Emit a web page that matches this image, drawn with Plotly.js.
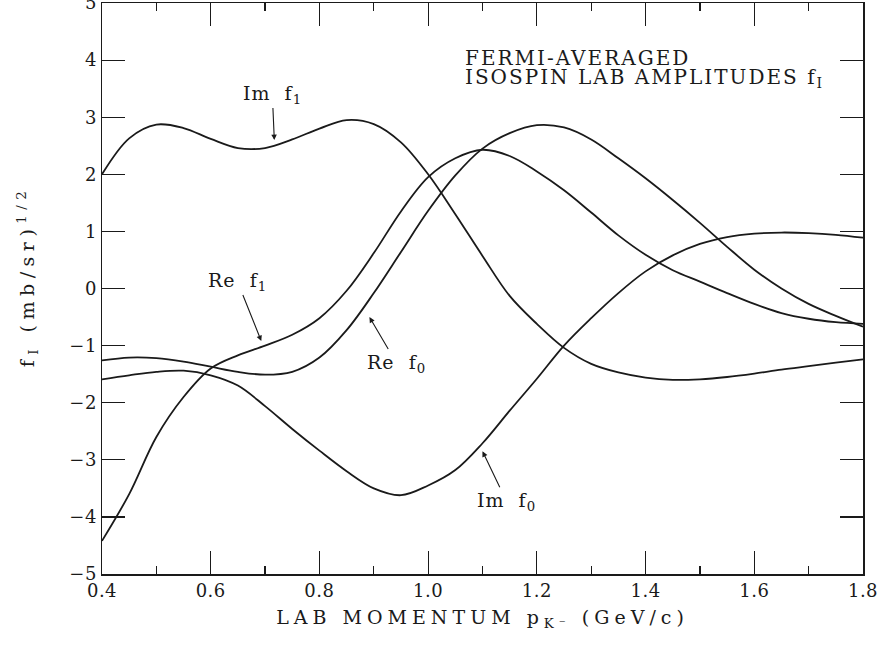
<!DOCTYPE html>
<html>
<head>
<meta charset="utf-8">
<script src="https://cdn.plot.ly/plotly-3.0.1.min.js"></script>
<style>
html,body{margin:0;padding:0;background:#fff;}
#chart{width:883px;height:651px;}
</style>
</head>
<body>
<div id="chart"></div>
<script>
// Lab momentum p_K- (GeV/c)
const momentum = [0.40,0.45,0.50,0.55,0.60,0.65,0.70,0.75,0.80,0.85,0.90,0.95,1.00,1.05,1.10,1.15,1.20,1.25,1.30,1.35,1.40,1.45,1.50,1.55,1.60,1.65,1.70,1.75,1.80];

// Fermi-averaged isospin lab amplitudes (mb/sr)^1/2
const imF1 = [2.00,2.63,2.87,2.81,2.62,2.46,2.46,2.61,2.80,2.95,2.88,2.56,2.00,1.30,0.57,-0.13,-0.62,-1.04,-1.32,-1.47,-1.56,-1.60,-1.59,-1.55,-1.49,-1.42,-1.36,-1.30,-1.24];
const reF1 = [-4.42,-3.60,-2.60,-1.90,-1.40,-1.17,-1.00,-0.81,-0.52,-0.04,0.62,1.35,1.95,2.28,2.43,2.32,2.05,1.72,1.33,0.93,0.59,0.32,0.12,-0.08,-0.27,-0.43,-0.53,-0.59,-0.62];
const reF0 = [-1.26,-1.21,-1.22,-1.28,-1.37,-1.46,-1.51,-1.46,-1.21,-0.73,-0.08,0.64,1.36,1.98,2.45,2.72,2.86,2.82,2.61,2.28,1.93,1.55,1.15,0.73,0.33,0.00,-0.27,-0.48,-0.67];
const imF0 = [-1.59,-1.52,-1.46,-1.44,-1.52,-1.70,-2.06,-2.46,-2.84,-3.20,-3.50,-3.62,-3.45,-3.18,-2.71,-2.14,-1.58,-1.00,-0.52,-0.08,0.30,0.58,0.78,0.90,0.96,0.98,0.97,0.94,0.89];

const seriesNames = ['Im f1','Re f1','Re f0','Im f0'];
const seriesValues = [imF1, reF1, reF0, imF0];

const xTickVals = [0.4,0.6,0.8,1.0,1.2,1.4,1.6,1.8];
const xTickText = ['0.4','0.6','0.8','1.0','1.2','1.4','1.6','1.8'];
const yTickVals = [-5,-4,-3,-2,-1,0,1,2,3,4,5];

// curve labels: text, arrow tip (x, y), text offset in px (ax, ay)
const labelTexts = ['Im  f<sub>1</sub>','Re  f<sub>1</sub>','Re  f<sub>0</sub>','Im  f<sub>0</sub>'];
const labelTipX = [0.717, 0.693, 0.892, 1.100];
const labelTipY = [2.60, -0.92, -0.50, -2.85];
const labelAx = [-2, -24, 27, 24];
const labelAy = [-46, -60, 46, 50];

const noteLines = ['FERMI-AVERAGED', 'ISOSPIN LAB AMPLITUDES f<sub>I</sub>'];
const noteY = [4.03, 3.68];

const ink = '#1a1a1a';
const fontFam = '"DejaVu Serif", "Liberation Serif", serif';

const traces = seriesValues.map((vals, i) => ({
  x: momentum,
  y: vals,
  name: seriesNames[i],
  type: 'scatter',
  mode: 'lines',
  line: {color: ink, width: 1.8, shape: 'spline', smoothing: 1.0},
  hoverinfo: 'skip',
  showlegend: false
}));

const annotations = labelTexts.map((t, i) => ({
  x: labelTipX[i], y: labelTipY[i], xref: 'x', yref: 'y',
  text: t, showarrow: true, ax: labelAx[i], ay: labelAy[i],
  arrowhead: 2, arrowsize: 1, arrowwidth: 1.1, arrowcolor: ink,
  font: {family: fontFam, size: 19, color: ink}, standoff: 0,
  name: 'curvelabel'
}));

noteLines.forEach((t, i) => annotations.push({
  x: 1.064, y: noteY[i], xref: 'x', yref: 'y', xanchor: 'left', yanchor: 'middle', align: 'left',
  text: t, showarrow: false,
  font: {family: fontFam, size: 20, color: ink},
  name: 'note'
}));

const layout = {
  width: 883, height: 651,
  margin: {l: 102, r: 20, t: 3, b: 77, pad: 0},
  paper_bgcolor: '#fff', plot_bgcolor: '#fff',
  font: {family: fontFam, size: 18, color: ink},
  xaxis: {
    range: [0.4, 1.8], tickvals: xTickVals, ticktext: xTickText,
    ticks: 'inside', ticklen: 23, tickwidth: 1.2, tickcolor: ink,
    minor: {dtick: 0.1, tick0: 0.4, ticks: 'inside', ticklen: 8, tickwidth: 1.2, tickcolor: ink, showgrid: false},
    showline: true, linecolor: ink, linewidth: 1.5, mirror: 'ticks',
    showgrid: false, zeroline: false, ticklabeloverflow: 'allow',
    tickfont: {family: fontFam, size: 18, color: ink},
    title: {text: 'LAB MOMENTUM p<sub>K⁻</sub> (GeV/c)', font: {family: fontFam, size: 19, color: ink}, standoff: 10}
  },
  yaxis: {
    range: [-5, 5], tickvals: yTickVals,
    ticks: 'inside', ticklen: 23, tickwidth: 1.2, tickcolor: ink,
    showline: true, linecolor: ink, linewidth: 1.5, mirror: 'ticks',
    showgrid: false, zeroline: false, ticklabeloverflow: 'allow',
    tickfont: {family: fontFam, size: 18, color: ink},
    title: {text: 'f<sub>I</sub> (mb/sr)<sup>1/2</sup>', font: {family: fontFam, size: 19, color: ink}, standoff: 30}
  },
  annotations: annotations,
  showlegend: false
};

Plotly.newPlot('chart', traces, layout, {displayModeBar: false, staticPlot: true}).then(gd => {
  // widen letter spacing to match the wide typeface of the original figure
  gd.querySelectorAll('.xtitle').forEach(el => el.style.letterSpacing = '5px');
  gd.querySelectorAll('.ytitle').forEach(el => el.style.letterSpacing = '5.5px');
  const yt = gd.querySelector('.g-ytitle');
  if (yt) yt.style.transform = 'translate(0px,-12px)';
  gd.querySelectorAll('.annotation-text').forEach(el => {
    const txt = el.textContent || '';
    el.style.letterSpacing = (txt.indexOf('FERMI') >= 0 || txt.indexOf('ISOSPIN') >= 0) ? '2px' : '1px';
  });
  gd.querySelectorAll('.xtick text, .ytick text').forEach(el => el.style.letterSpacing = '0.5px');
});
</script>
</body>
</html>
